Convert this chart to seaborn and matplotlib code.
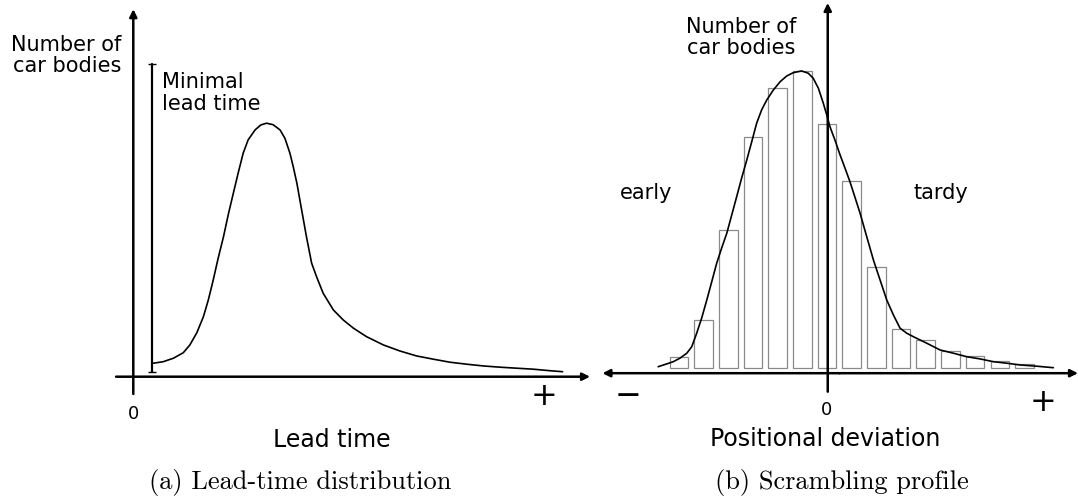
import matplotlib
matplotlib.use("Agg")
import matplotlib.pyplot as plt
import seaborn as sns

sns.set_theme(style="white")
plt.rcParams['font.family'] = ['DejaVu Sans']
plt.rcParams['text.color'] = 'black'

# (a) lead-time distribution curve
lead_x = [0.49, 0.73, 0.98, 1.22, 1.38, 1.55, 1.71, 1.83, 1.95, 2.07, 2.20, 2.32,
          2.44, 2.56, 2.68, 2.80, 2.97, 3.11, 3.25, 3.41, 3.58, 3.70, 3.82, 3.90,
          3.99, 4.07, 4.15, 4.23, 4.35, 4.47, 4.63, 4.88, 5.12, 5.37, 5.69, 6.10,
          6.50, 6.91, 7.32, 7.72, 8.13, 8.54, 8.95, 9.35, 9.76, 10.16, 10.47]
lead_y = [0.54, 0.60, 0.74, 0.96, 1.27, 1.76, 2.40, 3.07, 3.87, 4.74, 5.60, 6.51,
          7.34, 8.16, 8.94, 9.47, 9.87, 10.07, 10.14, 10.08, 9.87, 9.53, 8.94, 8.41,
          7.74, 7.00, 6.27, 5.54, 4.54, 4.00, 3.34, 2.67, 2.27, 1.94, 1.60, 1.27,
          1.03, 0.83, 0.70, 0.58, 0.50, 0.43, 0.38, 0.34, 0.30, 0.24, 0.20]
min_lead = 0.46
min_lead_span = [0.18, 12.5]

# (b) scrambling profile: histogram bins and fitted curve
dev_bins = [-6, -5, -4, -3, -2, -1, 0, 1, 2, 3, 4, 5, 6, 7, 8]
dev_counts = [0.43, 1.91, 5.49, 9.22, 11.20, 11.88, 9.74, 7.47, 4.02, 1.56,
              1.10, 0.66, 0.45, 0.26, 0.13]
curve_x = [-6.84, -6.50, -6.23, -5.96, -5.68, -5.48, -5.28, -5.08, -4.87, -4.67,
           -4.47, -4.27, -4.06, -3.86, -3.66, -3.46, -3.25, -3.05, -2.85, -2.65,
           -2.44, -2.18, -1.90, -1.63, -1.37, -1.03, -0.76, -0.56, -0.35, -0.15,
           -0.01, 0.12, 0.32, 0.53, 0.73, 0.93, 1.34, 1.61, 1.88, 2.15, 2.42, 2.69,
           2.96, 3.23, 3.50, 4.04, 4.58, 5.12, 5.66, 6.21, 6.74, 7.28, 7.82, 8.50, 9.17]
curve_y = [0.04, 0.15, 0.24, 0.38, 0.58, 0.84, 1.38, 1.98, 2.71, 3.44,
           4.18, 4.78, 5.38, 6.11, 6.84, 7.58, 8.31, 9.04, 9.78, 10.31,
           10.71, 11.10, 11.44, 11.67, 11.80, 11.87, 11.78, 11.58, 11.18, 10.58,
           10.11, 9.64, 9.11, 8.51, 7.98, 7.44, 6.18, 5.24, 4.31, 3.51, 2.71, 2.11,
           1.58, 1.38, 1.24, 0.98, 0.71, 0.58, 0.44, 0.35, 0.24, 0.18, 0.11, 0.06, 0.0]

fig = plt.figure(figsize=(10.78, 4.97), dpi=100)
ax1 = fig.add_axes([0, 0, 590 / 1078, 1])
ax2 = fig.add_axes([590 / 1078, 0, 488 / 1078, 1])

arrow = dict(arrowstyle='-|>', color='black', lw=1.8, mutation_scale=11,
             shrinkA=0, shrinkB=0)
curve_kw = dict(color='black', lw=1.2, sort=False, solid_joinstyle='round',
                solid_capstyle='round')

# ---- (a) Lead-time distribution
sns.lineplot(x=lead_x, y=lead_y, ax=ax1, **curve_kw)
ax1.plot([min_lead, min_lead], min_lead_span, color='black', lw=1.6,
         marker='_', ms=6, mew=1.0)
ax1.annotate('', xy=(11.14, 0), xytext=(-0.42, 0), arrowprops=arrow)
ax1.annotate('', xy=(0, 14.7), xytext=(0, -0.69), arrowprops=arrow)
ax1.text(-0.28, 12.85, 'Number of\ncar bodies', ha='right', va='center', fontsize=15,
         linespacing=1.1)
ax1.text(0.69, 11.35, 'Minimal\nlead time', ha='left', va='center', fontsize=15,
         linespacing=1.1)
ax1.text(0, -1.49, '0', ha='center', va='center', fontsize=13)
ax1.text(10.02, -0.8, '+', ha='center', va='center', fontsize=23)
ax1.text(4.83, -2.53, 'Lead time', ha='center', va='center', fontsize=17)
ax1.text(4.06, -4.24, '(a) Lead-time distribution', ha='center', va='center',
         fontsize=19, family='cmr10')
ax1.set_xlim(-3.251, 11.139)
ax1.set_ylim(-4.812, 15.068)
ax1.axis('off')

# ---- (b) Scrambling profile
sns.barplot(x=dev_bins, y=dev_counts, ax=ax2, native_scale=True, width=0.75,
            color='white', saturation=1, edgecolor='#8a8a8a', linewidth=0.9)
sns.lineplot(x=curve_x, y=curve_y, ax=ax2, **curve_kw)
ax2.annotate('', xy=(10.17, -0.22), xytext=(0.5, -0.22), arrowprops=arrow)
ax2.annotate('', xy=(-9.1, -0.22), xytext=(0.5, -0.22), arrowprops=arrow)
ax2.annotate('', xy=(0.03, 14.59), xytext=(0.03, -0.96), arrowprops=arrow)
ax2.text(-3.48, 13.21, 'Number of\ncar bodies', ha='center', va='center', fontsize=15,
         linespacing=1.1)
ax2.text(-7.33, 6.98, 'early', ha='center', va='center', fontsize=15)
ax2.text(4.62, 6.98, 'tardy', ha='center', va='center', fontsize=15)
ax2.text(-8.08, -1.16, '\u2212', ha='center', va='center', fontsize=23)
ax2.text(8.76, -1.4, '+', ha='center', va='center', fontsize=23)
ax2.text(-0.01, -1.69, '0', ha='center', va='center', fontsize=13)
ax2.text(-0.08, -2.85, 'Positional deviation', ha='center', va='center', fontsize=17)
ax2.text(0.60, -4.6, '(b) Scrambling profile', ha='center', va='center',
         fontsize=19, family='cmr10')
ax2.set_xlim(-9.603, 10.170)
ax2.set_ylim(-5.172, 14.708)
ax2.axis('off')

fig.savefig('out.png', dpi=100)
